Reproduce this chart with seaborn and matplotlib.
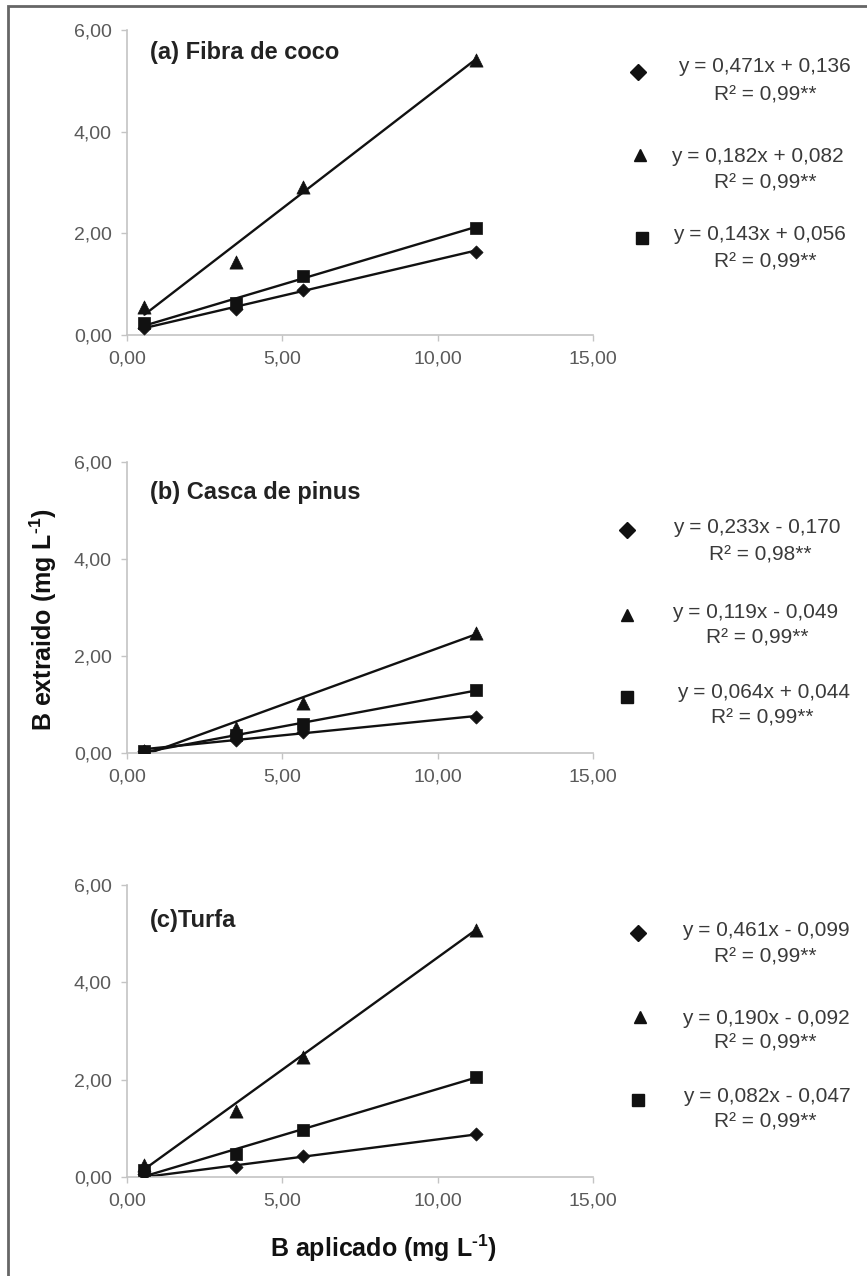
import numpy as np
import pandas as pd
import matplotlib as mpl
mpl.use("Agg")
import matplotlib.pyplot as plt
from matplotlib.patches import Rectangle
from matplotlib.lines import Line2D
import seaborn as sns

# B aplicado (mg L-1)
x_aplicado = [0.56, 3.5, 5.65, 11.25]

# (a) Fibra de coco
tri_a = [0.55, 1.44, 2.92, 5.41]
sq_a = [0.24, 0.62, 1.16, 2.10]
dia_a = [0.14, 0.52, 0.88, 1.63]
# (b) Casca de pinus
tri_b = [0.05, 0.52, 1.03, 2.47]
sq_b = [0.05, 0.38, 0.60, 1.30]
dia_b = [0.04, 0.27, 0.43, 0.75]
# (c) Turfa
tri_c = [0.25, 1.35, 2.46, 5.07]
sq_c = [0.14, 0.48, 0.96, 2.05]
dia_c = [0.07, 0.21, 0.43, 0.88]

# fitted equations (slope, intercept), in the order they are printed
fit_a = [(0.471, 0.136), (0.182, 0.082), (0.143, 0.056)]
fit_b = [(0.233, -0.170), (0.119, -0.049), (0.064, 0.044)]
fit_c = [(0.461, -0.099), (0.190, -0.092), (0.082, -0.047)]

eq_a = ["y = 0,471x + 0,136", "y = 0,182x + 0,082", "y = 0,143x + 0,056"]
eq_b = ["y = 0,233x - 0,170", "y = 0,119x - 0,049", "y = 0,064x + 0,044"]
eq_c = ["y = 0,461x - 0,099", "y = 0,190x - 0,092", "y = 0,082x - 0,047"]
r2_a = ["R² = 0,99**", "R² = 0,99**", "R² = 0,99**"]
r2_b = ["R² = 0,98**", "R² = 0,99**", "R² = 0,99**"]
r2_c = ["R² = 0,99**", "R² = 0,99**", "R² = 0,99**"]

titles = ["(a) Fibra de coco", "(b) Casca de pinus", "(c)Turfa"]
xticks = [0, 5, 10, 15]
xtick_labels = ["0,00", "5,00", "10,00", "15,00"]
yticks = [0, 2, 4, 6]
ytick_labels = ["0,00", "2,00", "4,00", "6,00"]

sns.set_theme(style="ticks")
plt.rcParams["font.family"] = ["Liberation Sans", "DejaVu Sans"]
plt.rcParams["mathtext.fontset"] = "custom"
plt.rcParams["mathtext.rm"] = "Liberation Sans:bold"
plt.rcParams["mathtext.default"] = "rm"

W, H = 867, 1276
fig = plt.figure(figsize=(W / 100, H / 100), dpi=100)


def fx(px):
    return px / W


def fy(py):
    return 1 - py / H


# axes boxes in pixels: left, right, top(y=6), bottom(y=0)
boxes = [(127, 593, 30, 335), (127, 593, 462, 753), (127, 593, 885, 1177)]
panels = [
    (tri_a, sq_a, dia_a, fit_a, eq_a, r2_a),
    (tri_b, sq_b, dia_b, fit_b, eq_b, r2_b),
    (tri_c, sq_c, dia_c, fit_c, eq_c, r2_c),
]
title_pos = [(0.75, 5.55), (0.75, 5.38), (0.75, 5.27)]

# legend layout: marker (x, y) and text centres per panel
leg_markers = [
    [(638, 72), (640, 155), (642, 238)],
    [(627, 530), (627, 615), (627, 697)],
    [(638, 933), (640, 1017), (638, 1100)],
]
leg_eq = [
    [(764, 67), (757, 157), (759, 235)],
    [(757, 528), (755, 613), (764, 692)],
    [(766, 930), (766, 1018), (767, 1097)],
]
leg_r2 = [
    [(765, 95), (765, 183), (765, 262)],
    [(760, 555), (757, 638), (762, 718)],
    [(765, 957), (765, 1043), (765, 1122)],
]
leg_shapes = ["D", "^", "s"]
leg_sizes = [8, 9, 9]

spine_col = "#c4c4c4"
tick_col = "#5a5a5a"
mark_col = "#111111"

for i, (l, r, t, b) in enumerate(boxes):
    ax = fig.add_axes([fx(l), fy(b), fx(r - l), (b - t) / H])
    tri, sq, dia, fits, eqs, r2s = panels[i]

    xs = np.array([x_aplicado[0], x_aplicado[-1]])
    for slope, icpt in fits:
        line = pd.DataFrame({"x": xs, "y": slope * xs + icpt})
        sns.lineplot(data=line, x="x", y="y", ax=ax, color=mark_col,
                     linewidth=1.7, clip_on=True)

    sns.scatterplot(x=x_aplicado, y=tri, marker="^", s=90, color=mark_col,
                    edgecolor=mark_col, linewidth=0.5, ax=ax, zorder=3)
    sns.scatterplot(x=x_aplicado, y=sq, marker="s", s=70, color=mark_col,
                    edgecolor=mark_col, linewidth=0.5, ax=ax, zorder=3)
    sns.scatterplot(x=x_aplicado, y=dia, marker="D", s=45, color=mark_col,
                    edgecolor=mark_col, linewidth=0.5, ax=ax, zorder=3)

    ax.set_xlim(0, 15)
    ax.set_ylim(0, 6)
    ax.set_xticks(xticks)
    ax.set_xticklabels(xtick_labels)
    ax.set_yticks(yticks)
    ax.set_yticklabels(ytick_labels)
    ax.set_xlabel("")
    ax.set_ylabel("")
    ax.tick_params(axis="both", colors=spine_col, labelcolor=tick_col,
                   labelsize=14, length=4, width=1, pad=7)
    for side in ["top", "right"]:
        ax.spines[side].set_visible(False)
    for side in ["left", "bottom"]:
        ax.spines[side].set_color(spine_col)
        ax.spines[side].set_linewidth(1.2)

    ax.text(title_pos[i][0], title_pos[i][1], titles[i], fontsize=17,
            fontweight="bold", color="#222222", va="center", ha="left")

    for j in range(3):
        mx, my = leg_markers[i][j]
        fig.add_artist(Line2D([fx(mx)], [fy(my)], marker=leg_shapes[j],
                              markersize=leg_sizes[j], color=mark_col,
                              linestyle="none"))
        ex, ey = leg_eq[i][j]
        fig.text(fx(ex), fy(ey), eqs[j], fontsize=15, color="#3a3a3a",
                 ha="center", va="center")
        rx, ry = leg_r2[i][j]
        fig.text(fx(rx), fy(ry), r2s[j], fontsize=15, color="#3a3a3a",
                 ha="center", va="center")

fig.text(fx(43), fy(620), r"B extraido (mg L$^{\text{-}1}$)", rotation=90,
         fontsize=18, fontweight="bold", color="#111111",
         ha="center", va="center")
fig.text(fx(384), fy(1248), r"B aplicado (mg L$^{\text{-}1}$)",
         fontsize=18, fontweight="bold", color="#111111",
         ha="center", va="center")

# outer frame (only left and top edges fall inside the picture)
fig.add_artist(Rectangle((fx(8), -0.1), 1.2, fy(6) + 0.1, fill=False,
                         edgecolor="#666666", linewidth=2,
                         transform=fig.transFigure))

fig.savefig("out.png", dpi=100, facecolor="white")
